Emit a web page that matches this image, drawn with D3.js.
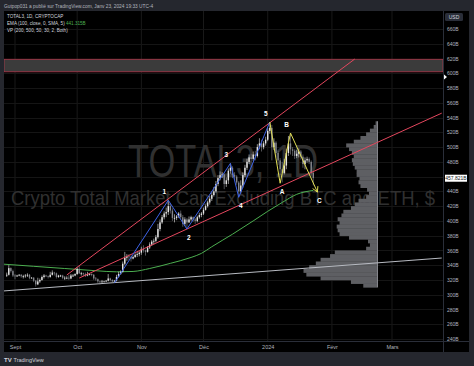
<!DOCTYPE html>
<html>
<head>
<meta charset="utf-8">
<script src="https://cdn.jsdelivr.net/npm/d3@7"></script>
<style>
  html, body { margin: 0; padding: 0; background: #25272e; }
  svg { display: block; font-family: "Liberation Sans", Arial, sans-serif; }
</style>
</head>
<body>
<div id="graf"></div>
<script>
// Velas diarias TOTAL3 (miles de millones USD), desde el 28 ago 2023
const candleStart = "2023-08-28"
const firstOpen = 326
const closes = [
  327, 336, 332, 326,
  325, 326, 327, 325, 325, 326, 327, 323, 323, 319, 314, 318, 320, 324, 326, 325, 324, 327, 330, 329, 324, 326, 326, 323, 323, 323, 322, 326, 326, 328,
  335, 329, 329, 328, 326, 328, 328, 327, 322, 321, 318, 317, 318, 318, 319, 322, 320, 318, 319, 324, 328, 331, 342, 350, 352, 351, 349, 351, 354, 355, 357,
  362, 360, 358, 364, 368, 372, 373, 378, 389, 398, 405, 410, 412, 420, 414, 404, 404, 406, 410, 405, 396, 402, 398, 402, 405, 402, 400, 405, 408, 410,
  415, 420, 425, 430, 435, 440, 450, 458, 462, 463, 450, 455, 468, 472, 462, 460, 452, 440, 448, 462, 472, 480, 486, 484, 490, 488, 500, 505, 500, 505, 510,
  522, 526, 500, 506, 492, 482, 470, 465, 475, 492, 505, 497, 495, 488, 491, 494, 487, 477, 482, 484, 480, 465, 458
]
const highs = [
  330, 340, 337, 334,
  328, 327, 328, 328, 327, 328, 329, 328, 324, 324, 320, 323, 322, 326, 328, 327, 326, 331, 333, 331, 330, 327, 327, 327, 325, 325, 327, 328, 328, 329,
  337, 339, 331, 330, 330, 331, 329, 329, 328, 324, 322, 319, 320, 319, 320, 328, 323, 321, 320, 327, 331, 333, 345, 358, 355, 355, 353, 353, 356, 358, 359,
  365, 367, 361, 366, 371, 374, 376, 381, 396, 402, 408, 413, 418, 428, 424, 417, 409, 408, 412, 414, 408, 405, 404, 406, 407, 406, 404, 407, 411, 412,
  418, 422, 427, 434, 440, 446, 454, 462, 467, 466, 464, 459, 471, 478, 474, 466, 462, 454, 455, 466, 476, 484, 490, 491, 494, 495, 504, 512, 510, 508, 514,
  526, 534, 530, 512, 508, 495, 485, 480, 484, 498, 515, 519, 500, 497, 496, 498, 496, 490, 486, 487, 486, 482, 468
]
const lows = [
  324, 326, 330, 324,
  321, 324, 325, 323, 322, 323, 324, 321, 322, 317, 311, 313, 316, 319, 322, 324, 322, 323, 326, 326, 322, 323, 324, 321, 320, 321, 320, 321, 324, 325,
  327, 328, 326, 325, 324, 325, 326, 325, 320, 319, 316, 314, 316, 317, 317, 318, 318, 316, 316, 318, 323, 327, 330, 340, 346, 347, 345, 348, 350, 351, 352,
  354, 357, 353, 357, 362, 366, 368, 371, 376, 386, 396, 402, 405, 408, 410, 400, 398, 401, 404, 402, 392, 393, 389, 397, 400, 399, 396, 398, 403, 405,
  408, 414, 418, 422, 427, 433, 438, 447, 455, 458, 443, 446, 450, 464, 458, 456, 449, 432, 437, 445, 459, 469, 477, 479, 481, 482, 486, 497, 494, 497, 502,
  508, 518, 482, 496, 486, 476, 462, 452, 463, 470, 488, 490, 488, 484, 485, 486, 483, 472, 470, 479, 477, 460, 448
]

// EMA 100 (lectura del gráfico)
const emaDates = ["2023-08-26", "2023-09-10", "2023-09-25", "2023-10-10", "2023-10-20", "2023-10-28", "2023-11-05", "2023-11-15",
  "2023-11-25", "2023-11-30", "2023-12-05", "2023-12-15", "2023-12-25", "2024-01-01", "2024-01-08", "2024-01-15", "2024-01-23"]
const emaValues = [341.5, 338.5, 335.5, 332.5, 331, 331.5, 335.5, 342.5, 350.5, 356, 365, 382, 400, 413, 425, 436, 441.3]

// Perfil de volumen (filas de 5B desde 310B)
const vpStart = 310
const vpStep = 5
const vpRightDate = "2024-02-23"
const vpVolumes = [15, 28, 60, 75, 78, 72, 65, 60, 50, 45, 12, 8, 10, 30, 40, 42, 43, 40, 42, 38, 36, 28, 24, 20, 12, 9, 11,
  18, 20, 19, 22, 22, 24, 26, 27, 25, 27, 30, 33, 25, 18, 12, 8, 4, 2]

// Dibujos: zona, canal, ondas
const zoneValues = [602, 619]
const upperRedDates = ["2023-09-26", "2024-02-12"]
const upperRedValues = [326.7, 619.3]
const lowerRedDates = ["2023-10-02", "2024-03-25"]
const lowerRedValues = [322.6, 546]
const grayLineDates = ["2023-08-26", "2024-03-25"]
const grayLineValues = [305, 349.7]
const impulseLabels = ["", "1", "2", "3", "4", "5"]
const impulseDates = ["2023-10-19", "2023-11-14", "2023-11-23", "2023-12-14", "2023-12-18", "2024-01-02"]
const impulseValues = [316, 428, 389, 478, 432, 534]
const correctionLabels = ["", "A", "B", "C"]
const correctionDates = ["2024-01-02", "2024-01-07", "2024-01-12", "2024-01-25"]
const correctionValues = [534, 451, 519, 439]
const alertValue = 595

// Ejes
const monthTicks = ["2023-09-01", "2023-10-01", "2023-11-01", "2023-12-01", "2024-01-01", "2024-02-01", "2024-03-01"]
const monthLabels = ["Sept", "Oct", "Nov", "Déc", "2024", "Févr", "Mars"]
const priceTicks = [240, 260, 280, 300, 320, 340, 360, 380, 400, 420, 440, 460, 480, 500, 520, 540, 560, 580, 600, 620, 640, 660]
const lastPrice = 457.821
const emaLast = 441.315

const parse = d3.timeParse("%Y-%m-%d")

const draw = () => {
  const width = 474
  const height = 366
  const plot = { left: 4, top: 11, right: 443, bottom: 341 }
  const frame = { right: 469, bottom: 352 }

  const svg = d3.select("#graf")
    .append("svg")
    .attr("width", width)
    .attr("height", height)

  // Fondo
  svg.append("rect").attr("width", width).attr("height", height).attr("fill", "#25272e")
  svg.append("rect")
    .attr("x", plot.left).attr("y", plot.top)
    .attr("width", frame.right - plot.left).attr("height", frame.bottom - plot.top)
    .attr("fill", "#000")

  // Escaladores
  const x = d3.scaleTime()
    .domain([parse(monthTicks[0]), parse(monthTicks[monthTicks.length - 1])])
    .range([15, 392])
  const y = d3.scaleLinear()
    .domain([240, 660])
    .range([339, 29])

  svg.append("defs").append("clipPath").attr("id", "clip")
    .append("rect")
    .attr("x", plot.left).attr("y", plot.top)
    .attr("width", plot.right - plot.left).attr("height", plot.bottom - plot.top)

  // Rejilla
  const grid = svg.append("g").attr("clip-path", "url(#clip)")
  grid.selectAll(".vgrid").data(monthTicks).enter().append("line")
    .attr("x1", (d) => x(parse(d))).attr("x2", (d) => x(parse(d)))
    .attr("y1", plot.top).attr("y2", plot.bottom)
    .attr("stroke", "#191919").attr("stroke-width", 1)
  grid.selectAll(".hgrid").data(priceTicks).enter().append("line")
    .attr("x1", plot.left).attr("x2", plot.right)
    .attr("y1", (d) => Math.round(y(d)) + 0.5).attr("y2", (d) => Math.round(y(d)) + 0.5)
    .attr("stroke", "#151515").attr("stroke-width", 1)

  // Marca de agua
  svg.append("text")
    .attr("x", 223).attr("y", 177)
    .attr("text-anchor", "middle")
    .attr("font-size", 46)
    .attr("textLength", 190).attr("lengthAdjust", "spacingAndGlyphs")
    .attr("fill", "#303030")
    .text("TOTAL3, 1D")
  svg.append("text")
    .attr("x", 223).attr("y", 205)
    .attr("text-anchor", "middle")
    .attr("font-size", 21)
    .attr("textLength", 424).attr("lengthAdjust", "spacingAndGlyphs")
    .attr("fill", "#303030")
    .text("Crypto Total Market Cap Excluding BTC and ETH, $")

  const g = svg.append("g").attr("clip-path", "url(#clip)")

  // Zona
  g.append("rect")
    .attr("x", plot.left).attr("width", plot.right - plot.left)
    .attr("y", y(zoneValues[1])).attr("height", y(zoneValues[0]) - y(zoneValues[1]))
    .attr("fill", "#3b3b3b")
    .attr("stroke", "#b3384c").attr("stroke-width", 0.8)

  // Perfil de volumen
  const vpRight = x(parse(vpRightDate))
  const vpWidth = d3.scaleLinear().domain([0, d3.max(vpVolumes)]).range([0, 74])
  g.selectAll(".vp").data(vpVolumes).enter().append("rect")
    .attr("x", (d) => vpRight - vpWidth(d))
    .attr("width", (d) => vpWidth(d))
    .attr("y", (d, i) => y(vpStart + (i + 1) * vpStep))
    .attr("height", (d, i) => y(vpStart + i * vpStep) - y(vpStart + (i + 1) * vpStep) + 0.3)
    .attr("fill", "#5e5f63")
  g.append("line")
    .attr("x1", vpRight).attr("x2", vpRight)
    .attr("y1", y(vpStart + vpVolumes.length * vpStep)).attr("y2", y(vpStart))
    .attr("stroke", "#9a9ca2").attr("stroke-width", 0.8)

  // Lineas del canal
  const pathLine = d3.line().x((d) => x(parse(d[0]))).y((d) => y(d[1]))
  const drawLine = (dates, values, color, w) => {
    g.append("path")
      .datum(d3.zip(dates, values))
      .attr("d", pathLine)
      .attr("fill", "none")
      .attr("stroke", color)
      .attr("stroke-width", w)
  }
  drawLine(grayLineDates, grayLineValues, "#b8bbc2", 1)

  // EMA
  g.append("path")
    .datum(d3.zip(emaDates, emaValues))
    .attr("d", d3.line().x((d) => x(parse(d[0]))).y((d) => y(d[1])).curve(d3.curveMonotoneX))
    .attr("fill", "none")
    .attr("stroke", "#4caf50")
    .attr("stroke-width", 1)

  // Velas
  const start = parse(candleStart)
  const candles = closes.map((c, i) => ({
    date: d3.timeDay.offset(start, i),
    open: i === 0 ? firstOpen : closes[i - 1],
    high: highs[i],
    low: lows[i],
    close: c
  }))
  const up = "#e6e6e6"
  const down = "#85878d"
  g.selectAll(".wick").data(candles).enter().append("line")
    .attr("x1", (d) => x(d.date)).attr("x2", (d) => x(d.date))
    .attr("y1", (d) => y(d.high)).attr("y2", (d) => y(d.low))
    .attr("stroke", (d) => d.close >= d.open ? up : down)
    .attr("stroke-width", 0.6)
  g.selectAll(".body").data(candles).enter().append("rect")
    .attr("x", (d) => x(d.date) - 0.7)
    .attr("width", 1.4)
    .attr("y", (d) => y(Math.max(d.open, d.close)))
    .attr("height", (d) => Math.max(0.8, Math.abs(y(d.open) - y(d.close))))
    .attr("fill", (d) => d.close >= d.open ? up : down)

  drawLine(upperRedDates, upperRedValues, "#e4475e", 1)
  drawLine(lowerRedDates, lowerRedValues, "#e4475e", 1)

  // Ondas de Elliott
  const waves = (labels, dates, values, color) => {
    drawLine(dates, values, color, 1)
    const pts = d3.zip(labels, dates, values)
    const isPeak = (d) => d[2] > pts[pts.indexOf(d) - 1][2]
    g.selectAll(null).data(pts.filter((d) => d[0] !== "")).enter().append("text")
      .attr("x", (d) => x(parse(d[1])))
      .attr("y", (d) => y(d[2]))
      .attr("dx", (d) => isPeak(d) ? -4 : 2)
      .attr("dy", (d) => isPeak(d) ? -6 : 11)
      .attr("text-anchor", "middle")
      .attr("font-size", 6.5)
      .attr("font-weight", "bold")
      .attr("fill", "#ffffff")
      .text((d) => d[0])
  }
  waves(impulseLabels, impulseDates, impulseValues, "#3d63e8")
  waves(correctionLabels, correctionDates, correctionValues, "#e2df55")

  // Punta de flecha en C
  const n = correctionDates.length
  const bx = x(parse(correctionDates[n - 2])), by = y(correctionValues[n - 2])
  const cx = x(parse(correctionDates[n - 1])), cy = y(correctionValues[n - 1])
  const ang = Math.atan2(cy - by, cx - bx)
  ;[-0.5, 0.5].forEach((a) => {
    g.append("line")
      .attr("x1", cx).attr("y1", cy)
      .attr("x2", cx - 6 * Math.cos(ang + a)).attr("y2", cy - 6 * Math.sin(ang + a))
      .attr("stroke", "#e2df55").attr("stroke-width", 1)
  })

  // Separadores de ejes
  svg.append("line")
    .attr("x1", plot.right + 0.5).attr("x2", plot.right + 0.5)
    .attr("y1", plot.top).attr("y2", frame.bottom)
    .attr("stroke", "#2a2e39")
  svg.append("line")
    .attr("x1", plot.left).attr("x2", frame.right)
    .attr("y1", plot.bottom + 0.5).attr("y2", plot.bottom + 0.5)
    .attr("stroke", "#2a2e39")

  // Eje de tiempo
  const xAxisGroup = svg.append("g")
    .attr("transform", `translate(0, ${plot.bottom})`)
    .call(d3.axisBottom(x)
      .tickValues(monthTicks.map(parse))
      .tickFormat((d, i) => monthLabels[i])
      .tickSize(0)
      .tickPadding(4))
  xAxisGroup.select(".domain").remove()
  xAxisGroup.selectAll("text")
    .attr("font-size", 5.5)
    .attr("font-family", "Liberation Sans, Arial, sans-serif")
    .attr("fill", "#b2b5be")

  // Eje de precios
  const shownTicks = priceTicks.filter((d) => Math.abs(y(d) - y(lastPrice)) > 7)
  const yAxisGroup = svg.append("g")
    .attr("transform", `translate(${plot.right}, 0)`)
    .call(d3.axisRight(y)
      .tickValues(shownTicks)
      .tickFormat((d) => d + "B")
      .tickSize(0)
      .tickPadding(4))
  yAxisGroup.select(".domain").remove()
  yAxisGroup.selectAll("text")
    .attr("font-size", 5)
    .attr("font-family", "Liberation Sans, Arial, sans-serif")
    .attr("fill", "#b2b5be")

  // Etiqueta USD
  svg.append("rect")
    .attr("x", 445).attr("y", 13).attr("width", 18).attr("height", 8).attr("rx", 1.5)
    .attr("fill", "#2a2e39")
  svg.append("text")
    .attr("x", 454).attr("y", 19)
    .attr("text-anchor", "middle")
    .attr("font-size", 5)
    .attr("fill", "#d1d4dc")
    .text("USD")

  // Precio actual
  svg.append("rect")
    .attr("x", 445).attr("y", y(lastPrice) - 3.5).attr("width", 22).attr("height", 7)
    .attr("fill", "#ffffff")
  svg.append("text")
    .attr("x", 456).attr("y", y(lastPrice) + 1.8)
    .attr("text-anchor", "middle")
    .attr("font-size", 5)
    .attr("fill", "#131722")
    .text(lastPrice.toFixed(3) + "B")

  // Marcador de alerta
  svg.append("path")
    .attr("d", `M${plot.right + 1},${y(alertValue) - 2.5} L${plot.right + 4},${y(alertValue)} L${plot.right + 1},${y(alertValue) + 2.5} Z`)
    .attr("fill", "#ffffff")

  // Encabezado y leyenda
  svg.append("text")
    .attr("x", 4).attr("y", 7.5)
    .attr("font-size", 4.8)
    .attr("fill", "#b2b5be")
    .text("Gutpop031 a publié sur TradingView.com, Janv 23, 2024 19:33 UTC-4")

  const legend = svg.append("g").attr("font-size", 4.6).attr("fill", "#d1d4dc")
  legend.append("text").attr("x", 7).attr("y", 17.5).text("TOTAL3, 1D, CRYPTOCAP")
  const emaText = legend.append("text").attr("x", 7).attr("y", 25)
  emaText.append("tspan").text("EMA (100, close, 0, SMA, 5) ")
  emaText.append("tspan").attr("fill", "#4caf50").text(" " + emaLast.toFixed(3) + "B")
  legend.append("text").attr("x", 7).attr("y", 32).text("VP (200, 500, 50, 30, 2, Both)")

  // Pie
  svg.append("text")
    .attr("x", 4).attr("y", 361.5)
    .attr("font-size", 6)
    .attr("font-weight", "bold")
    .attr("fill", "#d1d4dc")
    .text("TV")
  svg.append("text")
    .attr("x", 13.5).attr("y", 361.5)
    .attr("font-size", 5.5)
    .attr("fill", "#d1d4dc")
    .text("TradingView")
}

draw()
</script>
</body>
</html>
